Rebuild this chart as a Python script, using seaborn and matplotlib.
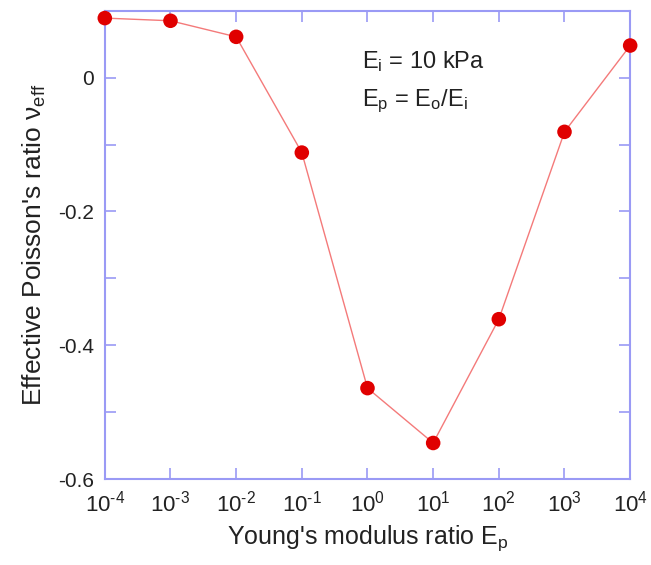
import matplotlib
matplotlib.use("Agg")
import matplotlib.pyplot as plt
import matplotlib.ticker as mticker
import numpy as np
import pandas as pd
import seaborn as sns

# values
young_ratio = [1e-4, 1e-3, 1e-2, 1e-1, 1e0, 1e1, 1e2, 1e3, 1e4]
poisson_eff = [0.089, 0.085, 0.061, -0.112, -0.464, -0.546, -0.361, -0.081, 0.048]

df = pd.DataFrame({"Ep": young_ratio, "nu": poisson_eff})

sns.set_style("white")
plt.rcParams["font.family"] = ["Liberation Sans", "DejaVu Sans"]
plt.rcParams["mathtext.fontset"] = "custom"
plt.rcParams["mathtext.rm"] = "Liberation Sans"
plt.rcParams["mathtext.it"] = "Liberation Sans"
plt.rcParams["mathtext.default"] = "regular"

axis_col = "#9a9af5"
txt_col = "#222222"
fig = plt.figure(figsize=(6.51, 5.65), dpi=100)
ax = fig.add_axes([0.161, 0.152, 0.807, 0.829])

sns.lineplot(data=df, x="Ep", y="nu", color="#f47a7a", linewidth=1, ax=ax)
sns.scatterplot(data=df, x="Ep", y="nu", color="#e00000", s=110, edgecolor="none",
                ax=ax, zorder=3, clip_on=False)

ax.set_xscale("log")
ax.set_xlim(1e-4, 1e4)
ax.set_ylim(-0.6, 0.1)
ax.xaxis.set_major_locator(mticker.LogLocator(base=10, numticks=20))
ax.xaxis.set_minor_locator(mticker.NullLocator())
ax.xaxis.set_major_formatter(mticker.FuncFormatter(
    lambda v, p: "10$^{%s}$" % str(int(round(np.log10(v)))).replace("-", "\u2010")))
ax.yaxis.set_major_locator(mticker.FixedLocator([-0.6, -0.4, -0.2, 0]))
ax.yaxis.set_minor_locator(mticker.MultipleLocator(0.1))
ax.yaxis.set_major_formatter(mticker.FuncFormatter(
    lambda v, p: "0" if abs(v) < 1e-9 else f"{v:.1f}"))

for s in ax.spines.values():
    s.set_color(axis_col)
    s.set_linewidth(1.5)
ax.tick_params(which="both", direction="in", color=axis_col, width=1.2,
               left=True, bottom=True, top=True, right=True,
               labelsize=15, pad=8, labelcolor=txt_col, length=8)
ax.tick_params(axis="x", labelsize=16)

ax.set_xlabel("Young's modulus ratio E$_p$", fontsize=18, color=txt_col, labelpad=5)
ax.set_ylabel("Effective Poisson's ratio ν$_{eff}$", fontsize=19, color=txt_col, labelpad=7)

ax.text(0.83, 0.014, "E$_i$ = 10 kPa", fontsize=17, color=txt_col)
ax.text(0.83, -0.042, "E$_p$ = E$_o$/E$_i$", fontsize=17, color=txt_col)

fig.savefig("out.png", dpi=100)
